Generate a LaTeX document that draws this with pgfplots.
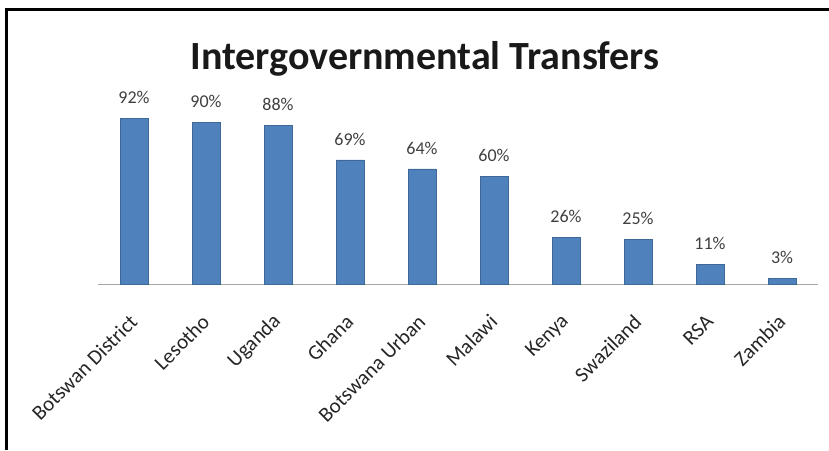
\documentclass[border=0pt]{standalone}
\usepackage{fontspec}
\setmainfont{Carlito}
\usepackage{pgfplots}
\pgfplotsset{compat=1.18}
\definecolor{barblue}{HTML}{4F81BD}
\definecolor{lblgray}{HTML}{404040}
\definecolor{axgray}{HTML}{A6A6A6}
\begin{document}
\begin{tikzpicture}[x=1pt,y=1pt]
\useasboundingbox (0,0) rectangle (829,450);
\fill[white] (0,0) rectangle (829,450);
\draw[black, line width=3pt] (6.5,0) -- (6.5,440.5) -- (829,440.5);
\node[font=\bfseries\fontsize{40}{44}\selectfont, text=black!90] at (425,391) {Intergovernmental Transfers};
\begin{axis}[
  at={(98pt,166pt)}, anchor=south west,
  scale only axis, width=720pt, height=180pt,
  xmin=-0.5, xmax=9.5, ymin=0, ymax=100,
  axis y line=none,
  axis x line*=bottom,
  x axis line style={axgray, line width=1pt, -},
  xtick=data,
  xticklabels={Botswan District,Lesotho,Uganda,Ghana,Botswana Urban,Malawi,Kenya,Swaziland,RSA,Zambia},
  xtick style={draw=none},
  xticklabel style={rotate=45, anchor=east, font=\fontsize{21}{24}\selectfont, text=black!85, xshift=-18pt, yshift=-21pt},
  ybar, bar width=28pt,
  nodes near coords={\pgfmathprintnumber[assume math mode=true]{\pgfplotspointmeta}\%},
  every node near coord/.append style={font=\fontsize{18}{20}\selectfont, text=lblgray, yshift=11pt},
  clip=false,
]
\addplot[fill=barblue, draw=barblue!80!black, line width=0.4pt] coordinates {
(0,92) (1,90) (2,88) (3,69) (4,64) (5,60) (6,26) (7,25) (8,11) (9,3)};
\end{axis}
\end{tikzpicture}
\end{document}
